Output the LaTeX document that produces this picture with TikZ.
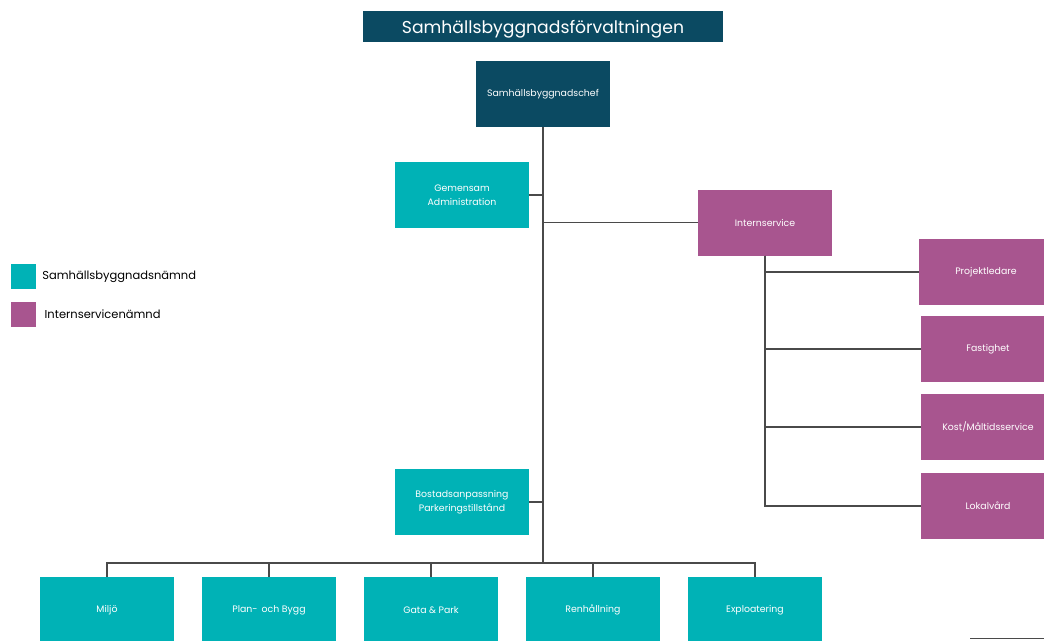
\documentclass[tikz,border=0pt]{standalone}
\usepackage{fontspec}
\setmainfont{Poppins}
\usetikzlibrary{positioning}
\definecolor{navy}{HTML}{0B4A62}
\definecolor{sbnteal}{HTML}{00B2B6}
\definecolor{isnpurple}{HTML}{A8558F}
\definecolor{linegray}{HTML}{4A4A4A}
\tikzset{
  unit/.style={minimum width=4.02cm, minimum height=1.98cm, inner sep=0pt,
    text=white, align=center, font=\fontsize{8}{12}\selectfont},
  sbn/.style={unit, fill=sbnteal},
  isn/.style={unit, fill=isnpurple},
  keybox/.style={minimum size=0.75cm, inner sep=0pt},
  link/.style={draw=linegray, line width=1.1pt},
}

\begin{document}
\begin{tikzpicture}[x=0.03cm,y=-0.03cm]
    \clip (0,0) rectangle (1044,640);
    \fill[white] (0,0) rectangle (1044,640);
    % top
    \node[fill=navy, minimum width=10.8cm, minimum height=0.93cm, inner sep=0pt, text depth=0pt,
          text=white, font=\fontsize{14.7}{16}\selectfont] (title) at (543,26.5) {Samhällsbyggnadsförvaltningen};
    \node[unit, fill=navy] (chef) at (543,94) {Samhällsbyggnadschef};
    % staff units
    \node[sbn] (adm) at (462,195) {Gemensam\\Administration};
    \node[sbn] (bost) at (462,502) {Bostadsanpassning\\Parkeringstillstånd};
    \node[isn] (intern) at (765,222.5) {Internservice};
    % internservice units
    \node[isn] (proj) at (986,272) {Projektledare};
    \node[isn] (fast) at (988,349) {Fastighet};
    \node[isn] (kost) at (988,427) {Kost/Måltidsservice};
    \node[isn] (lok) at (988,506) {Lokalvård};
    % departments
    \node[sbn] (miljo) at (107,610) {Miljö};
    \node[sbn] (plan) at (269,610) {Plan-\, och Bygg};
    \node[sbn] (gata) at (431,610) {Gata \& Park};
    \node[sbn] (renh) at (593,610) {Renhållning};
    \node[sbn] (expl) at (755,610) {Exploatering};
    % legend
    \node[keybox, fill=sbnteal] (keysbn) at (23.5,276.5) {};
    \node[keybox, fill=isnpurple] (keyisn) at (23.5,314.5) {};
    \node[right=5pt of keysbn, inner sep=0pt, font=\fontsize{9.8}{11}\selectfont] (keysbntext) {Samhällsbyggnadsnämnd};
    \node[right=7pt of keyisn, inner sep=0pt, font=\fontsize{9.8}{11}\selectfont] (keyisntext) {Internservicenämnd};
    % lines
    \coordinate (bus) at (543,563);
    \draw[link] (chef.south) -- (bus);
    \draw[link] (adm.east) -- (adm.east -| chef.south);
    \draw[link] (bost.east) -- (bost.east -| chef.south);
    \draw[link] (intern.west) -- (intern.west -| chef.south);
    \foreach \u in {proj,fast,kost,lok}
        \draw[link] (intern.south) |- (\u.west);
    \foreach \d in {miljo,plan,gata,renh,expl}
        \draw[link] (bus) -| (\d.north);
    \coordinate (stubL) at (970,638.5);
    \coordinate (stubR) at (1044,638.5);
    \draw[link] (stubL) -- (stubR);
\end{tikzpicture}
\end{document}
